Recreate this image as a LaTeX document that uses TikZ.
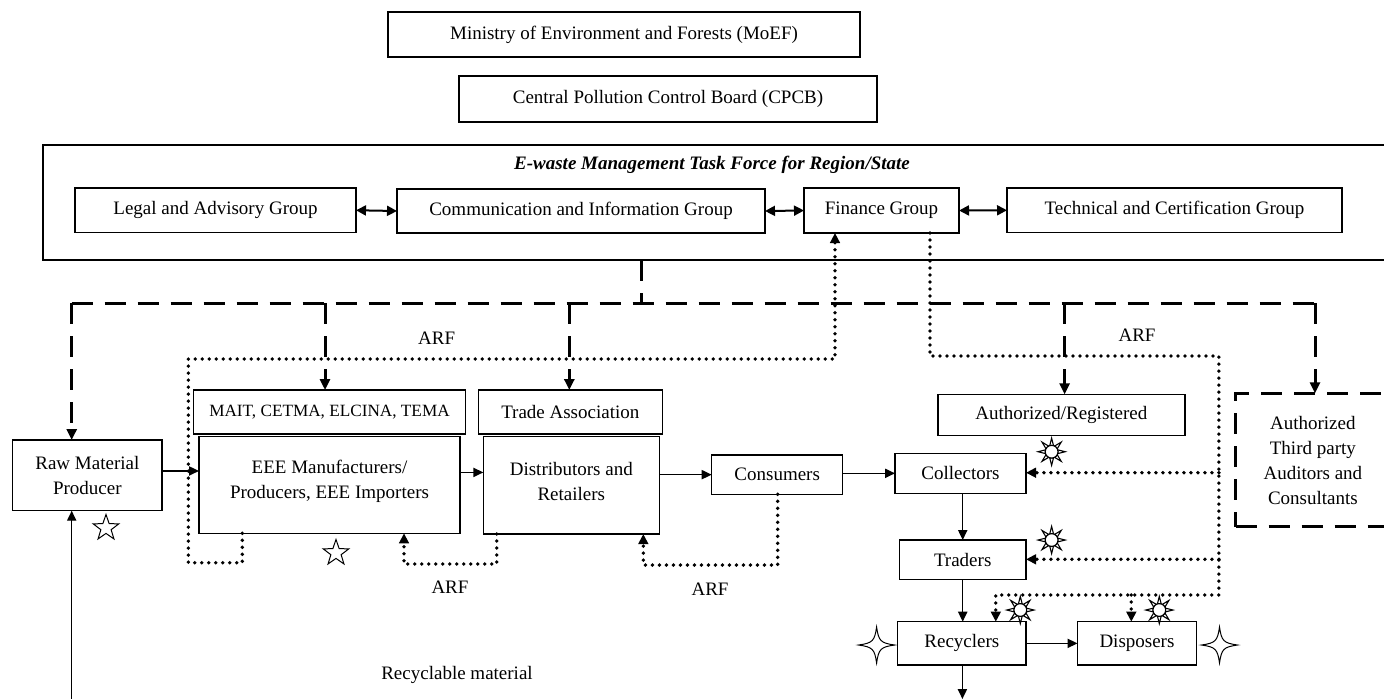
\documentclass[tikz,border=0pt]{standalone}
\usepackage{fontspec}
\setmainfont{Liberation Serif}
\usetikzlibrary{arrows.meta,shapes.geometric}
\newcommand\diagfont{\fontsize{9.5}{12.5}\selectfont}
\tikzset{
  box/.style={draw, line width=0.7pt, inner sep=0pt, outer sep=0pt, align=center, font=\diagfont},
  sz/.style 2 args={minimum width={(#1)*0.5pt}, minimum height={(#2)*0.5pt}},
  dbox/.style={draw, line width=1.5pt, dash pattern=on 10.5pt off 6pt, inner sep=0pt, outer sep=0pt, align=center, font=\diagfont},
  lbl/.style={inner sep=0pt, font=\diagfont},
  sarrow/.style={line width=0.7pt, -{Triangle[length=5pt,width=4.6pt]}},
  darrow2/.style={line width=1pt, {Triangle[length=5pt,width=5pt]}-{Triangle[length=5pt,width=5pt]}},
  dline/.style={line width=1.5pt, dash pattern=on 10.5pt off 6pt},
  dlarrow/.style={dline, -{Triangle[length=5.5pt,width=5pt]}},
  dotline/.style={line width=1.9pt, dash pattern=on 0pt off 3.5pt, line cap=round},
  dotarrow/.style={dotline, -{Triangle[length=5pt,width=4.8pt]}},
  star5/.style={star, star points=5, star point ratio=2.5, minimum size=13.5pt, inner sep=0pt, draw, line width=0.5pt, fill=white},
  sun/.pic={
    \foreach \a in {0,45,...,315}
      \draw[line width=0.55pt, fill=white] (\a-17:3.2pt) -- (\a:6.8pt) -- (\a+17:3.2pt) -- cycle;
    \draw[line width=0.6pt, fill=white] (0pt,0pt) circle[radius=3.2pt];
  },
  fourstar/.pic={
    \draw[line width=0.5pt, fill=white] (9pt,0pt) .. controls (2pt,1pt) and (1pt,2pt) .. (0pt,9pt)
      .. controls (-1pt,2pt) and (-2pt,1pt) .. (-9pt,0pt)
      .. controls (-2pt,-1pt) and (-1pt,-2pt) .. (0pt,-9pt)
      .. controls (1pt,-2pt) and (2pt,-1pt) .. (9pt,0pt) -- cycle;
  }
}
\begin{document}
\begin{tikzpicture}[x=0.5pt,y=-0.5pt]
\useasboundingbox (0,0) rectangle (1384,698);

% top boxes
\node[box, sz={472}{45}] (moef) at (624,34.5) {Ministry of Environment and Forests (MoEF)};
\node[box, sz={418}{46}] (cpcb) at (668,99) {Central Pollution Control Board (CPCB)};

% task force
\node[box, sz={1357}{115}] (tf) at (721.5,202.5) {};
\node[lbl, font=\diagfont\bfseries\itshape] (tftitle) at (712,165) {E-waste Management Task Force for Region/State};
\node[box, sz={281}{44.5}] (legal) at (215.5,210.25) {Legal and Advisory Group};
\node[box, sz={368}{44}] (comm) at (581,211) {Communication and Information Group};
\node[box, sz={155}{45}] (fin) at (881.5,210.5) {Finance Group};
\node[box, sz={335}{44.5}] (tech) at (1174.5,210.25) {Technical and Certification Group};
\draw[darrow2] (legal.east) -- (comm.west);
\draw[darrow2] (comm.east) -- (fin.west);
\draw[darrow2] (fin.east) -- (tech.west);

% main chain
\node[box, sz={149.3}{70.7}] (raw) at (87.35,475.35) {Raw Material\\Producer};
\node[box, sz={272.4}{44}, font=\fontsize{8.6}{11}\selectfont] (mait) at (329.5,412) {MAIT, CETMA, ELCINA, TEMA};
\node[box, sz={261}{96.6}] (eee) at (329.5,485) {};
\node[lbl, align=center] (eeetxt) at (329.5,481.5) {EEE Manufacturers/\\Producers, EEE Importers};
\node[box, sz={184}{44}] (trade) at (570.3,412) {Trade Association};
\node[box, sz={176}{97.3}] (dist) at (571.3,485.35) {};
\node[lbl, align=center] (disttxt) at (571.3,481.5) {Distributors and\\Retailers};
\node[box, sz={131}{39.3}] (cons) at (777.2,474.65) {Consumers};
\node[box, sz={246.9}{41.4}] (authreg) at (1061.35,415) {Authorized/Registered};
\node[box, sz={131}{40}] (coll) at (960.5,473.3) {Collectors};
\node[box, sz={126.6}{39.3}] (trad) at (962.7,559.65) {Traders};
\node[box, sz={128.3}{43.3}] (recy) at (961.85,643.35) {Recyclers};
\node[box, sz={118.9}{43.3}] (disp) at (1136.95,643.35) {Disposers};
\node[dbox, sz={154.3}{133.4}] (third) at (1312.85,460) {Authorized\\Third party\\Auditors and\\Consultants};

% dashed tree
\coordinate (jT) at (641,303);
\coordinate (jL) at (71.7,303);
\coordinate (jA) at (325,303);
\coordinate (jB) at (569.3,303);
\coordinate (jC) at (1064.6,303);
\coordinate (jR) at (1315,303);
\draw[dline] (tf.south -| jT) -- (jT);
\draw[dline] (jL) -- (jR);
\draw[dlarrow] (jL) -- (jL |- raw.north);
\draw[dlarrow] (jA) -- (jA |- mait.north);
\draw[dlarrow] (jB) -- (jB |- trade.north);
\draw[dlarrow] (jC) -- (jC |- authreg.north);
\draw[dlarrow] (jR) -- (jR |- third.north);

% solid flow
\draw[sarrow] ([yshift=2.2pt]raw.east) -- ([yshift=2.2pt]raw.east -| eee.west);
\draw[sarrow] ([yshift=6.3pt]eee.east) -- ([yshift=6.3pt]eee.east -| dist.west);
\draw[sarrow] (cons.west -| dist.east) -- (cons.west);
\draw[sarrow] (coll.west -| cons.east) -- (coll.west);
\draw[sarrow] (coll.south -| trad.north) -- (trad.north);
\draw[sarrow] (trad.south) -- (trad.south |- recy.north);
\draw[sarrow] (recy.east) -- (recy.east -| disp.west);
\coordinate (rbot) at (962.4,699);
\draw[sarrow] (recy.south -| rbot) -- (rbot);
\coordinate (rawbot) at (71.7,700);
\draw[sarrow] (rawbot) -- (rawbot |- raw.south);

% dotted ARF loops
\coordinate (a1) at (242.3,562.7);
\coordinate (a2) at (188.3,562.7);
\coordinate (a3) at (188.3,359);
\coordinate (a4) at (835,359);
\draw[dotarrow] (eee.south -| a1) -- (a1) -- (a2) -- (a3) -- (a4) -- (a4 |- fin.south);

\coordinate (b1) at (930,356);
\coordinate (b2) at (1218.9,356);
\coordinate (b3) at (1218.9,595);
\coordinate (b4) at (995.8,595);
\coordinate (b5) at (1131.3,595);
\coordinate (bc) at (1218.9,472.7);
\coordinate (bt) at (1218.9,559.3);
\draw[dotarrow] (fin.south -| b1) -- (b1) -- (b2) -- (b3) -- (b4) -- (b4 |- recy.north);
\draw[dotarrow] (b5) -- (b5 |- disp.north);
\draw[dotarrow] (bc) -- (bc -| coll.east);
\draw[dotarrow] (bt) -- (bt -| trad.east);

\coordinate (c1) at (496.7,564);
\coordinate (c2) at (404,564);
\draw[dotarrow] (dist.south -| c1) -- (c1) -- (c2) -- (c2 |- eee.south);
\coordinate (d1) at (777.7,565);
\coordinate (d2) at (643.3,565);
\draw[dotarrow] (cons.south -| d1) -- (d1) -- (d2) -- (d2 |- dist.south);

% labels
\node[lbl] (arf1) at (436.7,338) {ARF};
\node[lbl] (arf2) at (1137,335) {ARF};
\node[lbl] (arf3) at (450,587) {ARF};
\node[lbl] (arf4) at (710,589) {ARF};
\node[lbl] (recmat) at (457,675) {Recyclable material};

% symbols
\node[star5] (st1) at (106,528) {};
\node[star5] (st2) at (336,553) {};
\pic at (1051.6,451.7) {sun};
\pic at (1051.6,540) {sun};
\pic at (1020.3,610) {sun};
\pic at (1159.3,610) {sun};
\pic at (876.6,645) {fourstar};
\pic at (1219.5,645) {fourstar};
\end{tikzpicture}
\end{document}
